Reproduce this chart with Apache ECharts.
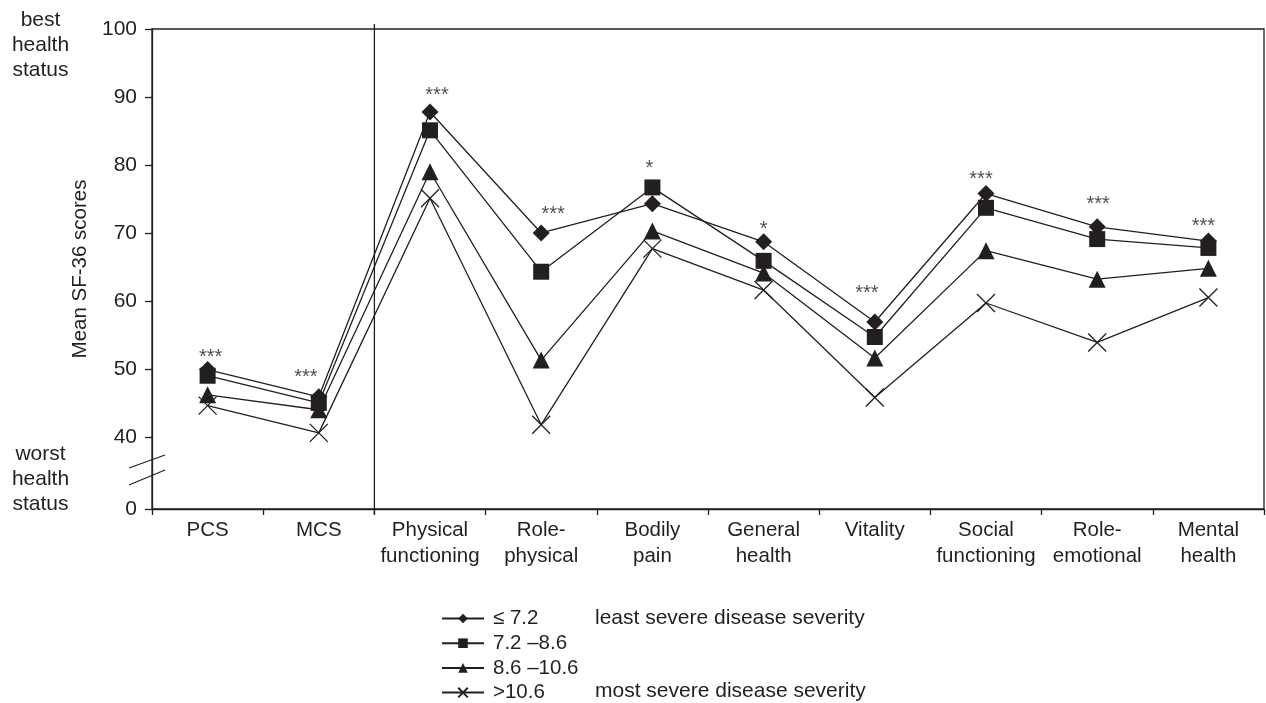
<!DOCTYPE html>
<html>
<head>
<meta charset="utf-8">
<script src="https://cdn.jsdelivr.net/npm/echarts@6/dist/echarts.min.js"></script>
<style>
html,body{margin:0;padding:0;background:#fff;}
#chart{width:1266px;height:703px;}
</style>
</head>
<body>
<div id="chart"></div>
<script>
const categories = ['PCS', 'MCS', 'Physical\nfunctioning', 'Role-\nphysical', 'Bodily\npain', 'General\nhealth', 'Vitality', 'Social\nfunctioning', 'Role-\nemotional', 'Mental\nhealth'];
const seriesNames = ['\u2264 7.2', '7.2 \u20138.6', '8.6 \u201310.6', '>10.6'];
const sevLeast = [49.9, 45.9, 87.8, 70.0, 74.3, 68.7, 56.9, 75.8, 70.9, 68.8];
const sevMid1 = [49.0, 45.0, 85.1, 64.3, 76.7, 65.9, 54.7, 73.7, 69.1, 67.8];
const sevMid2 = [46.2, 44.0, 79.0, 51.3, 70.3, 64.1, 51.6, 67.4, 63.2, 64.8];
const sevMost = [44.6, 40.6, 75.1, 41.8, 67.7, 61.6, 45.8, 59.7, 53.9, 60.5];
const significance = ['***', '***', '***', '***', '*', '*', '***', '***', '***', '***'];
const yTickValues = [29.4, 40, 50, 60, 70, 80, 90, 100];
const yTickLabels = ['0', '40', '50', '60', '70', '80', '90', '100'];

const INK = '#231f20';
const FONT = 'Liberation Sans, Arial, sans-serif';
const chart = echarts.init(document.getElementById('chart'));

const allSeries = [sevLeast, sevMid1, sevMid2, sevMost];
const symbols = ['diamond', 'rect', 'triangle', 'path://M0,0L10,10M10,0L0,10'];
const sizes = [17, 16, 17, 18];
// label nudges for the significance marks (pixels)
const sigNudge = [[3, 5], [-13, -2], [7, 1], [12, -1], [-3, -2], [0, 5], [-8, -12], [-5, 3], [1, -5], [-5, 2]];

const series = allSeries.map((d, i) => ({
  name: seriesNames[i],
  type: 'line',
  data: d,
  symbol: symbols[i],
  symbolSize: sizes[i],
  showAllSymbol: true,
  lineStyle: {color: INK, width: 1.3},
  itemStyle: i === 3 ? {color: 'rgba(0,0,0,0)', borderColor: INK, borderWidth: 1.3} : {color: INK, borderWidth: 0},
  z: 3
}));

series.push({
  type: 'scatter',
  symbolSize: 0,
  silent: true,
  data: categories.map((c, i) => {
    const top = Math.max(sevLeast[i], sevMid1[i], sevMid2[i], sevMost[i]);
    return {value: [i, top], label: {offset: [sigNudge[i][0], sigNudge[i][1]]}};
  }),
  label: {
    show: true,
    position: 'top',
    distance: 7,
    formatter: p => significance[p.dataIndex],
    color: INK,
    fontSize: 20,
    fontFamily: FONT
  },
  z: 4
});

chart.setOption({
  animation: false,
  backgroundColor: '#fff',
  grid: {left: 152, right: 2, top: 29, bottom: 194, show: true, borderColor: INK, borderWidth: 1.3, containLabel: false},
  xAxis: {
    type: 'category',
    data: categories,
    boundaryGap: true,
    axisLine: {lineStyle: {color: INK, width: 1.3}},
    axisTick: {show: true, length: 6, lineStyle: {color: INK, width: 1.3}},
    axisLabel: {color: INK, fontSize: 20.5, fontFamily: FONT, lineHeight: 25.5, margin: 9, interval: 0}
  },
  yAxis: {
    type: 'value',
    min: 29.4,
    max: 100,
    name: 'Mean SF-36 scores',
    nameLocation: 'middle',
    nameGap: 59,
    nameRotate: 90,
    nameTextStyle: {color: INK, fontSize: 20.5, fontFamily: FONT},
    splitLine: {show: false},
    axisLine: {show: true, lineStyle: {color: INK, width: 1.3}},
    axisTick: {show: true, length: 7, customValues: yTickValues, lineStyle: {color: INK, width: 1.3}},
    axisLabel: {
      color: INK, fontSize: 21, fontFamily: FONT, margin: 15,
      customValues: yTickValues,
      formatter: v => {
        const k = yTickValues.findIndex(t => Math.abs(t - v) < 1e-6);
        return k >= 0 ? yTickLabels[k] : '';
      }
    }
  },
  legend: {
    orient: 'vertical',
    left: 441,
    top: 608,
    padding: 0,
    height: 100,
    itemWidth: 42,
    itemHeight: 12,
    itemGap: 3.7,
    data: seriesNames,
    textStyle: {color: INK, fontSize: 20.5, fontFamily: FONT, lineHeight: 20, padding: [0, 0, 0, 4]},
    selectedMode: false
  },
  series: series
});

const xL = chart.convertToPixel({xAxisIndex: 0}, 1);
const xR = chart.convertToPixel({xAxisIndex: 0}, 2);
const xDiv = (xL + xR) / 2;
const yTop = chart.convertToPixel({yAxisIndex: 0}, 100);
const yBot = chart.convertToPixel({yAxisIndex: 0}, 29.4);

chart.setOption({
  graphic: [
    {type: 'line', shape: {x1: xDiv, y1: yTop - 5, x2: xDiv, y2: yBot + 6}, style: {stroke: INK, lineWidth: 1.3}, z: 10},
    {type: 'line', shape: {x1: 129, y1: 468, x2: 165, y2: 455}, style: {stroke: INK, lineWidth: 1.2}, z: 10},
    {type: 'line', shape: {x1: 129, y1: 485, x2: 165, y2: 470}, style: {stroke: INK, lineWidth: 1.2}, z: 10},
    {type: 'text', x: 40.5, y: 45, style: {text: 'best\nhealth\nstatus', fill: INK, font: '21px ' + FONT, lineHeight: 25, align: 'center', verticalAlign: 'middle'}},
    {type: 'text', x: 40.5, y: 479, style: {text: 'worst\nhealth\nstatus', fill: INK, font: '21px ' + FONT, lineHeight: 25, align: 'center', verticalAlign: 'middle'}},
    {type: 'text', x: 595, y: 618, style: {text: 'least severe disease severity', fill: INK, font: '21px ' + FONT, verticalAlign: 'middle'}},
    {type: 'text', x: 595, y: 691, style: {text: 'most severe disease severity', fill: INK, font: '21px ' + FONT, verticalAlign: 'middle'}}
  ]
});
</script>
</body>
</html>
